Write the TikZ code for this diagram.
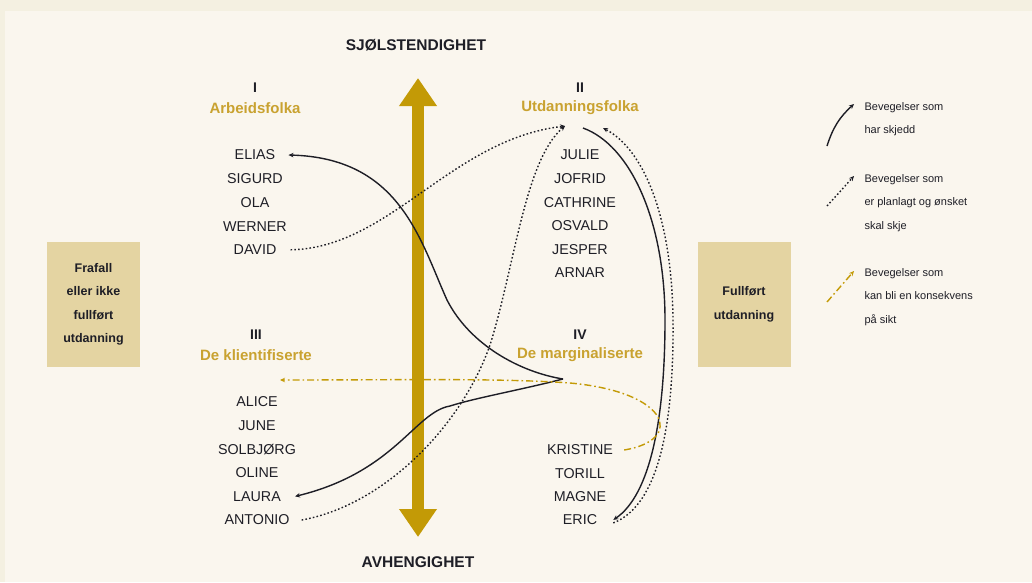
\documentclass[tikz,border=0pt]{standalone}
\usepackage{fontspec}
\setmainfont{Liberation Sans}
\usetikzlibrary{arrows.meta}

\definecolor{paper}{HTML}{F4F0E1}
\definecolor{panel}{HTML}{FAF6EE}
\definecolor{gold}{HTML}{C39A06}
\definecolor{headgold}{HTML}{C9A230}
\definecolor{boxfill}{HTML}{E4D4A2}
\definecolor{ink}{HTML}{1E1E26}

\tikzset{
  person/.style={font=\fontsize{14.3}{16}\selectfont,text=ink,inner sep=2pt},
  numeral/.style={font=\bfseries\fontsize{14}{16}\selectfont,text=ink},
  group/.style={font=\bfseries\fontsize{15}{17}\selectfont,text=headgold},
  axis label/.style={font=\bfseries\fontsize{15.5}{17}\selectfont,text=ink},
  outcome/.style={fill=boxfill,minimum width=93pt,minimum height=125pt,
    align=center,font=\bfseries\fontsize{12.5}{23.5}\selectfont,text=ink},
  legend text/.style={anchor=west,align=left,
    font=\fontsize{11}{23.5}\selectfont,text=ink},
  done/.style={line width=1.4pt,draw=ink},
  planned/.style={line width=1.4pt,draw=ink,dash pattern=on 1.6pt off 2.2pt},
  later/.style={line width=1.4pt,draw=gold,
    dash pattern=on 7pt off 3pt on 1.6pt off 3pt},
  tip/.style={-{Stealth[length=5pt,width=4.5pt]}}
}

\begin{document}
\begin{tikzpicture}[x=1pt,y=-1pt]
\useasboundingbox (0,0) rectangle (1032,582);
\fill[paper] (0,0) rectangle (1032,582);
\fill[panel] (5,11) rectangle (1032,582);

% axis
\node[axis label] (top) at (416,45) {SJØLSTENDIGHET};
\node[axis label] (bottom) at (418,562) {AVHENGIGHET};
\coordinate (up) at (418,78);
\coordinate (down) at (418,537);
\draw[gold,line width=12pt,{Triangle[width=36pt,length=28pt]}-{Triangle[width=36pt,length=28pt]}]
  (down) -- (up);

% outcome boxes
\node[outcome] (dropout) at (93.5,304.5) {Frafall\\eller ikke\\fullført\\utdanning};
\node[outcome] (completed) at (744,304.5) {Fullført\\utdanning};

% the four groups
\node[numeral] (n1) at (255,88) {I};
\node[group] (g1) at (255,108) {Arbeidsfolka};
\node[numeral] (n2) at (580,88) {II};
\node[group] (g2) at (580,108) {Utdanningsfolka};
\node[numeral] (n3) at (256,335) {III};
\node[group] (g3) at (256,355) {De klientifiserte};
\node[numeral] (n4) at (580,335) {IV};
\node[group] (g4) at (580,355) {De marginaliserte};

\foreach \n/\t [count=\i from 0] in {elias/ELIAS,sigurd/SIGURD,ola/OLA,werner/WERNER,david/DAVID}
  \node[person] (\n) at (255,155+23.7*\i) {\t};
\foreach \n/\t [count=\i from 0] in {julie/JULIE,jofrid/JOFRID,cathrine/CATHRINE,osvald/OSVALD,jesper/JESPER,arnar/ARNAR}
  \node[person] (\n) at (580,155+23.6*\i) {\t};
\foreach \n/\t [count=\i from 0] in {alice/ALICE,june/JUNE,solbjorg/SOLBJØRG,oline/OLINE,laura/LAURA,antonio/ANTONIO}
  \node[person] (\n) at (257,402+23.6*\i) {\t};
\foreach \n/\t [count=\i from 0] in {kristine/KRISTINE,torill/TORILL,magne/MAGNE,eric/ERIC}
  \node[person] (\n) at (580,450+23.3*\i) {\t};

% meeting points of the movements
\coordinate (marg) at (563,379);
\coordinate (utdA) at (565,126);
\coordinate (utdB) at (583,128);
\coordinate (utdC) at (603,128);
\coordinate (klient) at (280,380);

% movements that have happened
\draw[done,tip] (marg) .. controls (520,372) and (470,345) .. (447,300)
  .. controls (420,240) and (400,158) .. ([xshift=11pt]elias.east);
\draw[done,tip] (marg) .. controls (520,390) and (475,398) .. (450,406)
  .. controls (415,412) and (395,472) .. ([xshift=12pt]laura.east);
\draw[done,tip] (utdB) .. controls (630,145) and (665,220) .. (665,320)
  .. controls (665,420) and (650,495) .. ([xshift=14pt]eric.east);

% planned movements
\draw[planned,tip] ([xshift=12pt]david.east) .. controls (390,248) and (450,140) .. (utdA);
\draw[planned,tip] ([xshift=10pt]antonio.east) .. controls (385,505) and (462,425) .. (490,345)
  .. controls (515,265) and (525,160) .. (utdA);
\draw[planned,tip] ([xshift=14pt,yshift=-3pt]eric.east) .. controls (660,505) and (674,420) .. (673,320)
  .. controls (672,220) and (645,150) .. (utdC);

% possible consequence
\draw[later,tip] ([xshift=9pt]kristine.east) .. controls (685,440) and (670,392) .. (570,383)
  .. controls (500,378) and (400,380) .. (klient);

% legend
\coordinate (l1a) at (827,146);
\coordinate (l1b) at (854,104);
\coordinate (l2a) at (827,206);
\coordinate (l2b) at (854,176);
\coordinate (l3a) at (827,302);
\coordinate (l3b) at (854,271);
\draw[done,tip] (l1a) to[bend left=15] (l1b);
\draw[planned,tip] (l2a) -- (l2b);
\draw[later,tip] (l3a) -- (l3b);
\node[legend text] (t1) at (861,119) {Bevegelser som\\har skjedd};
\node[legend text] (t2) at (861,203) {Bevegelser som\\er planlagt og ønsket\\skal skje};
\node[legend text] (t3) at (861,297) {Bevegelser som\\kan bli en konsekvens\\på sikt};
\end{tikzpicture}
\end{document}
